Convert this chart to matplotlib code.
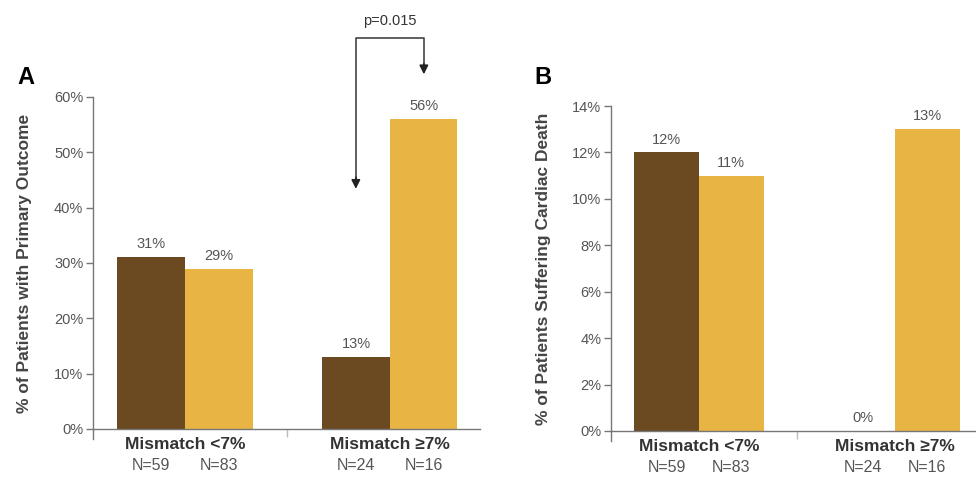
import matplotlib.pyplot as plt
import numpy as np

plt.rcParams['font.family'] = ['Liberation Sans', 'DejaVu Sans']

groups = ['Mismatch <7%', 'Mismatch \u22657%']
n_labels = [['N=59', 'N=83'], ['N=24', 'N=16']]

# panel A: primary outcome (%)
outcome_brown = [31, 13]
outcome_gold = [29, 56]
# panel B: cardiac death (%)
death_brown = [12, 0]
death_gold = [11, 13]

brown = '#6b4a22'
gold = '#e8b443'
grey = '#555555'
axis_col = '#777777'

fig = plt.figure(figsize=(9.76, 4.79), dpi=100)
W, H = 976, 479
w = 0.33


def make_ax(left, right, top, bottom):
    return fig.add_axes([left / W, (H - bottom) / H, (right - left) / W, (bottom - top) / H])


def draw_panel(ax, vb, vg, ymax, step, ylabel, xmin, xmax, pad):
    x = np.arange(len(groups))
    ax.bar(x - w / 2, vb, w, color=brown)
    ax.bar(x + w / 2, vg, w, color=gold)
    for xi, v in zip(x - w / 2, vb):
        ax.text(xi, v + ymax * 0.018, f'{v}%', ha='center', va='bottom', fontsize=10.5, color=grey)
    for xi, v in zip(x + w / 2, vg):
        ax.text(xi, v + ymax * 0.018, f'{v}%', ha='center', va='bottom', fontsize=10.5, color=grey)
    ax.set_xlim(xmin, xmax)
    ax.set_ylim(0, ymax)
    ticks = np.arange(0, ymax + step / 2, step)
    ax.set_yticks(ticks)
    ax.set_yticklabels([f'{int(t)}%' for t in ticks], fontsize=10.5, color=grey)
    ax.set_xticks([0.5])
    ax.set_xticklabels([''])
    for s in ['top', 'right']:
        ax.spines[s].set_visible(False)
    for s in ['left', 'bottom']:
        ax.spines[s].set_color(axis_col)
        ax.spines[s].set_linewidth(1.0)
    # y axis runs a little below the zero line
    ax.plot([xmin, xmin], [0, -ymax * 0.03], color=axis_col, lw=1.0, clip_on=False)
    ax.tick_params(axis='y', colors=axis_col, length=5, width=1, labelcolor=grey, pad=2)
    ax.tick_params(axis='x', colors='#bbbbbb', length=6, width=1)
    ax.set_ylabel(ylabel, fontsize=12.5, fontweight='bold', color='#444444', labelpad=pad)
    for xi, g, ns in zip(x, groups, n_labels):
        ax.annotate(g, (xi, 0), xytext=(0, -11.5), textcoords='offset points', ha='center',
                    va='center', fontsize=12.5, fontweight='bold', color='#333333',
                    annotation_clip=False)
        ax.annotate(ns[0], (xi - w / 2, 0), xytext=(0, -26.5), textcoords='offset points',
                    ha='center', va='center', fontsize=11.5, color=grey, annotation_clip=False)
        ax.annotate(ns[1], (xi + w / 2, 0), xytext=(0, -26.5), textcoords='offset points',
                    ha='center', va='center', fontsize=11.5, color=grey, annotation_clip=False)


axA = make_ax(93, 480, 97, 429)
draw_panel(axA, outcome_brown, outcome_gold, 60, 10,
           '% of Patients with Primary Outcome', -0.449, 1.44, 16)
axB = make_ax(611, 976, 106, 431)
draw_panel(axB, death_brown, death_gold, 14, 2,
           '% of Patients Suffering Cardiac Death', -0.449, 1.413, 15)

fig.text(17 / W, 1 - 77 / H, 'A', fontsize=17, fontweight='bold', va='center', ha='left')
fig.text(534 / W, 1 - 77 / H, 'B', fontsize=17, fontweight='bold', va='center', ha='left')

# significance bracket on panel A
xl, xr = 0.834, 1.166
y_top = 70.7
axA.plot([xl, xl, xr, xr], [45, y_top, y_top, 66], color='#444444', lw=1.2, clip_on=False)
axA.annotate('', xy=(xl, 42.9), xytext=(xl, 46), annotation_clip=False,
             arrowprops=dict(arrowstyle='-|>', color='#222222', lw=1.2, mutation_scale=13))
axA.annotate('', xy=(xr, 63.6), xytext=(xr, 66.5), annotation_clip=False,
             arrowprops=dict(arrowstyle='-|>', color='#222222', lw=1.2, mutation_scale=13))
axA.text((xl + xr) / 2, y_top + 1.7, 'p=0.015', ha='center', va='bottom', fontsize=10.5,
         color='#333333')

fig.savefig('out.png', dpi=100)
